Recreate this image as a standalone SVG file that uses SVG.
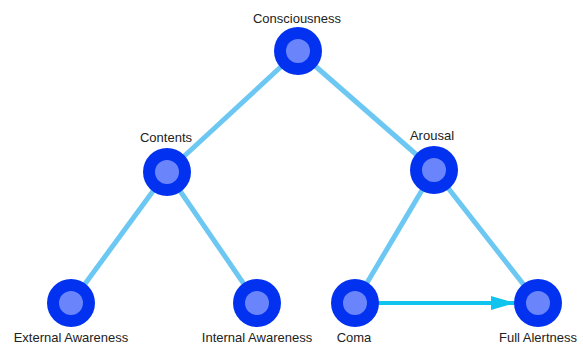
<svg xmlns="http://www.w3.org/2000/svg" width="583" height="345" viewBox="0 0 583 345">
<defs>
<style>
.edge{stroke:#6cc8f2;stroke-width:5;fill:none}
.arrow{stroke:#10c4ee;stroke-width:4;fill:none}
.outer{fill:#0232f0}
.inner{fill:#6a85fb}
.lbl{font-family:"Liberation Sans",Arial,sans-serif;font-size:13px;fill:#222;text-anchor:middle}
</style>
<marker id="ah" viewBox="0 0 24 14" refX="24" refY="7" markerWidth="24" markerHeight="14" markerUnits="userSpaceOnUse" orient="auto">
<path d="M0,0 L24,7 L0,14 z" fill="#10c4ee"/>
</marker>
</defs>
<rect width="583" height="345" fill="#fff"/>
<g id="connectors">
<line class="edge" x1="298" y1="51" x2="167" y2="172"/>
<line class="edge" x1="298" y1="51" x2="434" y2="170"/>
<line class="edge" x1="167" y1="172" x2="71" y2="303"/>
<line class="edge" x1="167" y1="172" x2="257" y2="303"/>
<line class="edge" x1="434" y1="170" x2="355" y2="303"/>
<line class="edge" x1="434" y1="170" x2="538" y2="303"/>
<line class="arrow" x1="378" y1="303" x2="515" y2="303" marker-end="url(#ah)"/>
</g>
<g id="consciousness"><circle class="outer" cx="298" cy="51" r="24"/><circle class="inner" cx="298" cy="51" r="12"/><text class="lbl" x="297" y="23">Consciousness</text></g>
<g id="contents"><circle class="outer" cx="167" cy="172" r="24"/><circle class="inner" cx="167" cy="172" r="12"/><text class="lbl" x="166" y="142">Contents</text></g>
<g id="arousal"><circle class="outer" cx="434" cy="170" r="24"/><circle class="inner" cx="434" cy="170" r="12"/><text class="lbl" x="432" y="140">Arousal</text></g>
<g id="external"><circle class="outer" cx="71" cy="303" r="24"/><circle class="inner" cx="71" cy="303" r="12"/><text class="lbl" x="71" y="342">External Awareness</text></g>
<g id="internal"><circle class="outer" cx="257" cy="303" r="24"/><circle class="inner" cx="257" cy="303" r="12"/><text class="lbl" x="257" y="342">Internal Awareness</text></g>
<g id="coma"><circle class="outer" cx="355" cy="303" r="24"/><circle class="inner" cx="355" cy="303" r="12"/><text class="lbl" x="354" y="342">Coma</text></g>
<g id="alertness"><circle class="outer" cx="538" cy="303" r="24"/><circle class="inner" cx="538" cy="303" r="12"/><text class="lbl" x="538" y="342">Full Alertness</text></g>
</svg>
